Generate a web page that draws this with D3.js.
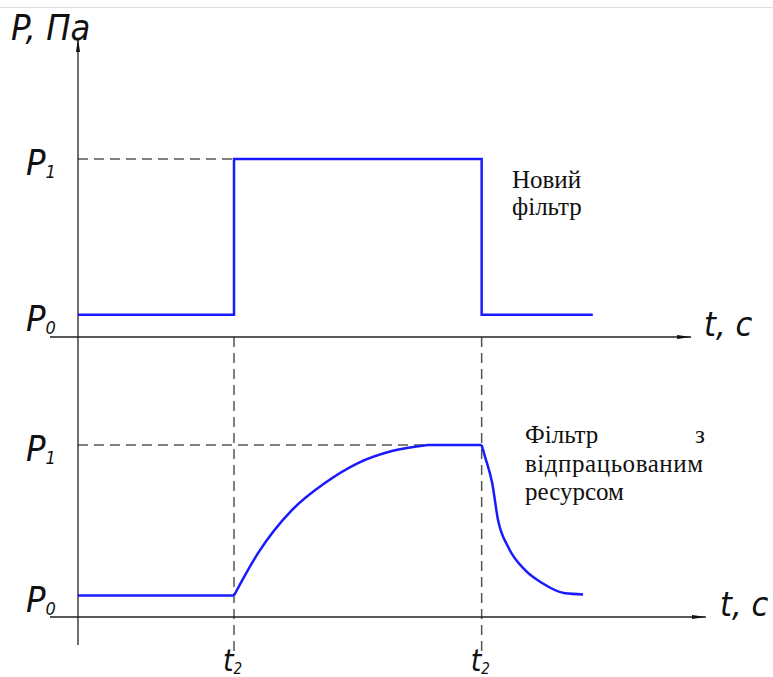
<!DOCTYPE html>
<html lang="uk">
<head>
<meta charset="UTF-8">
<title>P(t)</title>
<script src="https://d3js.org/d3.v7.min.js"></script>
<style>
  body { margin: 0; background: #fff; }
  .gost { font-family: "Liberation Sans Narrow", "DejaVu Sans Condensed", "DejaVu Sans", sans-serif; font-style: italic; fill: #111; }
  .note { font-family: "Liberation Serif", "DejaVu Serif", serif; font-size: 25px; fill: #111; }
</style>
</head>
<body>
<script>
// рівні тиску та моменти часу
const levelNames = ["0", "1"]
const levels = [1, 8]
const tMarks = [4, 10.35]

// новий фільтр — ступінчаста зміна
const newTime  = [0, 4, 4, 10.35, 10.35, 13.2]
const newPress = [1, 1, 8, 8, 1, 1]

// фільтр з відпрацьованим ресурсом
const oldTime  = [0, 4, 4.62, 5.49, 6.33, 7.18, 8.05, 8.97, 10.13, 10.35, 10.44, 10.62, 10.77, 11.03, 11.46, 11.9, 12.49, 12.95]
const oldPress = [1, 1, 2.98, 4.98, 6.23, 7.16, 7.72, 8, 8, 8, 7.44, 6.23, 4.51, 3.26, 2.19, 1.58, 1.1, 1.05]
// ділянки кривої: [початок, кінець, плавна?]
const oldParts = [[0, 1, false], [1, 7, true], [7, 9, false], [9, 17, true]]

const width = 773
const height = 677

var svg = d3.select("body").append("svg")
    .attr("width", width)
    .attr("height", height)

var x = d3.scaleLinear().domain([0, 16]).range([78, 78 + 16 * 39])
var yTop = d3.scaleLinear().domain([0, 8]).range([337, 159])
var yBot = d3.scaleLinear().domain([0, 8]).range([617, 445])

// верхня сіра лінія
svg.append("line")
    .attr("x1", 0).attr("x2", width)
    .attr("y1", 7.5).attr("y2", 7.5)
    .attr("stroke", "#ddd").attr("stroke-width", 1)

// стрілка
svg.append("defs").append("marker")
    .attr("id", "arr")
    .attr("viewBox", "0 0 14 6")
    .attr("refX", 14).attr("refY", 3)
    .attr("markerWidth", 14).attr("markerHeight", 6)
    .attr("markerUnits", "userSpaceOnUse")
    .attr("orient", "auto")
  .append("path")
    .attr("d", "M0,1 L14,3 L0,5 Z")
    .attr("fill", "#111")

// пунктирні лінії
var dash = svg.append("g")
    .attr("stroke", "#555")
    .attr("stroke-width", 1.5)
    .attr("stroke-dasharray", "10,6")

tMarks.forEach(function(t){
    dash.append("line")
        .attr("x1", x(t)).attr("x2", x(t))
        .attr("y1", yTop(0)).attr("y2", 652)
})
dash.append("line")
    .attr("x1", x(0)).attr("x2", x(tMarks[0]))
    .attr("y1", yTop(levels[1])).attr("y2", yTop(levels[1]))
dash.append("line")
    .attr("x1", x(0)).attr("x2", x(8.97))
    .attr("y1", yBot(levels[1])).attr("y2", yBot(levels[1]))

// осі
var axes = svg.append("g").attr("stroke", "#222").attr("stroke-width", 1.3)
axes.append("line")
    .attr("x1", x(0)).attr("x2", x(0))
    .attr("y1", 645).attr("y2", 38)
    .attr("marker-end", "url(#arr)")
axes.append("line")
    .attr("x1", 50).attr("x2", x(15.72))
    .attr("y1", yTop(0)).attr("y2", yTop(0))
    .attr("marker-end", "url(#arr)")
axes.append("line")
    .attr("x1", 50).attr("x2", x(16.1))
    .attr("y1", yBot(0)).attr("y2", yBot(0))
    .attr("marker-end", "url(#arr)")

// криві
var lineTop = d3.line()
    .x(function(d){ return x(d[0]) })
    .y(function(d){ return yTop(d[1]) })
var lineBot = d3.line()
    .x(function(d){ return x(d[0]) })
    .y(function(d){ return yBot(d[1]) })

svg.append("path")
    .attr("d", lineTop(d3.zip(newTime, newPress)))
    .attr("fill", "none").attr("stroke", "#1a1aff").attr("stroke-width", 2.5)

var oldPts = d3.zip(oldTime, oldPress)
var oldPath = oldParts.map(function(p){
    lineBot.curve(p[2] ? d3.curveMonotoneX : d3.curveLinear)
    return lineBot(oldPts.slice(p[0], p[1] + 1))
}).join("")

svg.append("path")
    .attr("d", oldPath)
    .attr("fill", "none").attr("stroke", "#1a1aff").attr("stroke-width", 2.5)
    .attr("stroke-linejoin", "round")

// підписи
function subLabel(xp, yp, main, sub, size) {
    var t = svg.append("text").attr("class", "gost")
        .attr("x", xp).attr("y", yp)
        .style("font-size", size + "px")
    t.append("tspan").text(main)
    t.append("tspan").text(sub)
        .attr("dy", 3)
        .style("font-size", (size * 0.5) + "px")
}

svg.append("text").attr("class", "gost")
    .attr("x", 11).attr("y", 40)
    .style("font-size", "36px")
    .text("P, Па")

;[yTop, yBot].forEach(function(y){
    levels.forEach(function(p, i){
        subLabel(26, y(p) + 16, "P", levelNames[i], 36)
    })
})

svg.append("text").attr("class", "gost")
    .attr("x", 704).attr("y", yTop(0) - 1)
    .style("font-size", "34px").text("t, c")
svg.append("text").attr("class", "gost")
    .attr("x", 720).attr("y", yBot(0) - 1)
    .style("font-size", "34px").text("t, c")

tMarks.forEach(function(t){
    subLabel(x(t) - 11, 671, "t", "2", 30)
})

// пояснення
svg.append("text").attr("class", "note")
    .attr("x", 512).attr("y", 188).text("Новий")
svg.append("text").attr("class", "note")
    .attr("x", 512).attr("y", 215).text("фільтр")

svg.append("text").attr("class", "note")
    .attr("x", 525).attr("y", 443).text("Фільтр")
svg.append("text").attr("class", "note")
    .attr("x", 705).attr("y", 443).attr("text-anchor", "end").text("з")
svg.append("text").attr("class", "note")
    .attr("x", 525).attr("y", 472)
    .attr("textLength", 178).attr("lengthAdjust", "spacing")
    .text("відпрацьованим")
svg.append("text").attr("class", "note")
    .attr("x", 525).attr("y", 500).text("ресурсом")
</script>
</body>
</html>
